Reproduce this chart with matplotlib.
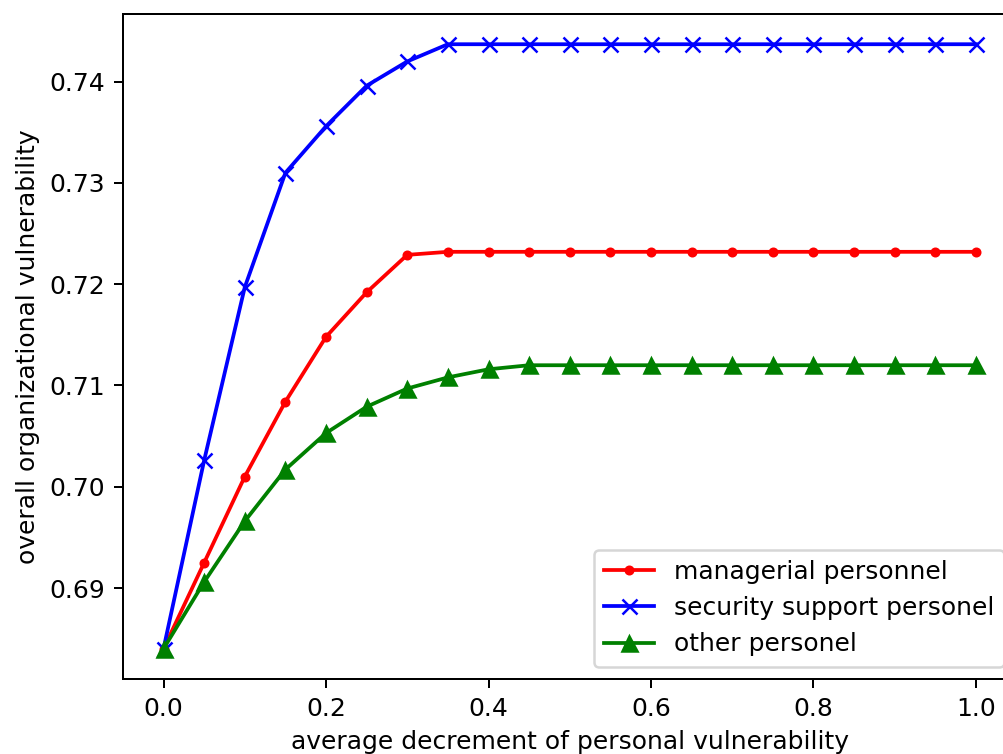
import matplotlib
matplotlib.use('Agg')
import matplotlib.pyplot as plt

decrement = [0.0, 0.05, 0.1, 0.15, 0.2, 0.25, 0.3, 0.35, 0.4, 0.45, 0.5,
             0.55, 0.6, 0.65, 0.7, 0.75, 0.8, 0.85, 0.9, 0.95, 1.0]

managerial = [0.6840, 0.6925, 0.7010, 0.7084, 0.7148, 0.7192, 0.7229, 0.7232,
              0.7232, 0.7232, 0.7232, 0.7232, 0.7232, 0.7232, 0.7232, 0.7232,
              0.7232, 0.7232, 0.7232, 0.7232, 0.7232]
security = [0.6840, 0.7026, 0.7197, 0.7310, 0.7356, 0.7396, 0.7420, 0.7437,
            0.7437, 0.7437, 0.7437, 0.7437, 0.7437, 0.7437, 0.7437, 0.7437,
            0.7437, 0.7437, 0.7437, 0.7437, 0.7437]
other = [0.6840, 0.6906, 0.6966, 0.7017, 0.7053, 0.7079, 0.7097, 0.7108,
         0.7116, 0.7120, 0.7120, 0.7120, 0.7120, 0.7120, 0.7120, 0.7120,
         0.7120, 0.7120, 0.7120, 0.7120, 0.7120]

dpi = 180
fig = plt.figure(figsize=(1003 / dpi, 754 / dpi), dpi=dpi)
ax = fig.add_axes([122.9 / 1003, 75 / 754, 893.7 / 1003, 665 / 754])

ax.plot(decrement, managerial, color='red', marker='.', label='managerial personnel')
ax.plot(decrement, security, color='blue', marker='x', label='security support personel')
ax.plot(decrement, other, color='green', marker='^', label='other personel')

ax.set_xlabel('average decrement of personal vulnerability')
ax.set_ylabel('overall organizational vulnerability')
ax.legend(loc='lower right')

fig.savefig('out.png', dpi=dpi)
